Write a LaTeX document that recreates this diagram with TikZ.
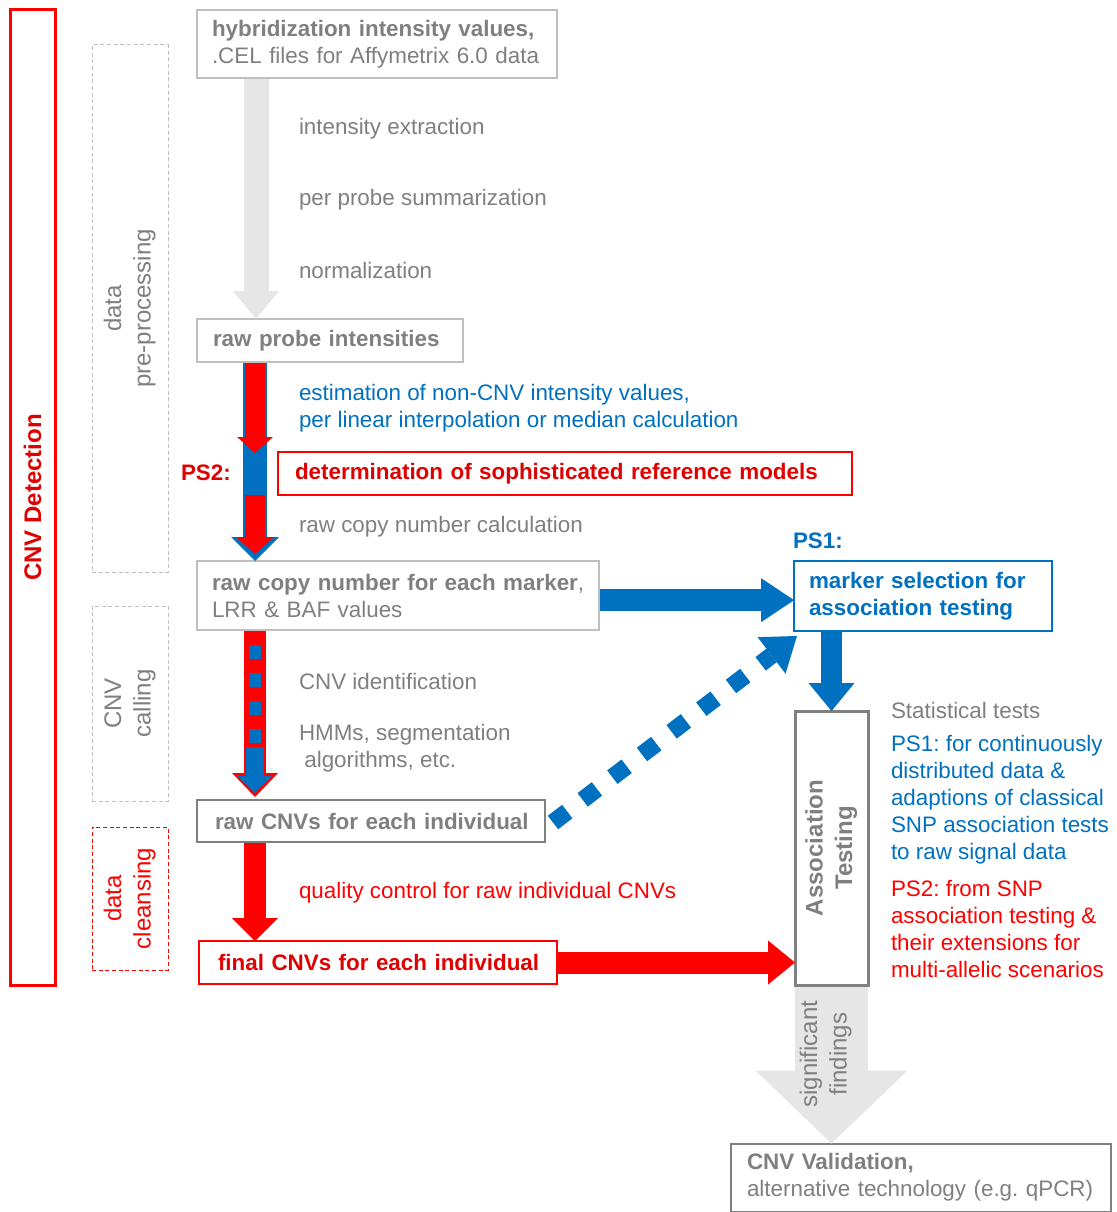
\documentclass[tikz,border=0pt]{standalone}
\usepackage{fontspec}
\setmainfont{Liberation Sans}
\usepackage{graphicx}
\usetikzlibrary{arrows.meta}
\definecolor{cblue}{HTML}{0070C0}
\definecolor{cred}{HTML}{FF0000}
\definecolor{cdred}{HTML}{E00000}
\definecolor{tgray}{HTML}{7F7F7F}
\definecolor{lgray}{HTML}{BFBFBF}
\definecolor{dgray}{HTML}{808080}
\definecolor{agray}{HTML}{E6E6E6}
\frenchspacing
\begin{document}
\begin{tikzpicture}[x=0.75pt,y=-0.75pt,
  every node/.style={inner sep=0pt, outer sep=0pt, font=\fontsize{16.8pt}{20.25pt}\selectfont},
  rfont/.style={font=\fontsize{18pt}{22pt}\selectfont},
  bold/.style={font=\fontsize{16.8pt}{20.25pt}\selectfont\bfseries},
  box/.style={draw=lgray, line width=1.5pt, text=tgray, align=left},
  lbl/.style={anchor=west, text=tgray, align=left},
  frame/.style={draw=lgray, line width=0.75pt, dash pattern=on 3pt off 2pt, text=tgray, rfont, minimum width=57pt},
  tip/.style args={#1/#2}{-{Triangle[width=#1,length=#2,line width=0pt]}}
]
\useasboundingbox (0,0) rectangle (1116,1212);

% side frames
\node[draw=cred, line width=2.25pt, minimum width=33.75pt, minimum height=731.25pt, text=cdred, rfont] (detect) at (32.5,497.5) {\rotatebox{90}{\bfseries CNV Detection}};
\node[frame, minimum height=395.25pt] (pre) at (130,308.5) {\rotatebox{90}{\begin{tabular}{@{}c@{}}data\\pre-processing\end{tabular}}};
\node[frame, minimum height=146.25pt] (call) at (130,703.5) {\rotatebox{90}{\begin{tabular}{@{}c@{}}CNV\\calling\end{tabular}}};
\node[frame, draw=cred, text=cred, minimum height=107.25pt] (clean) at (130,898.5) {\rotatebox{90}{\begin{tabular}{@{}c@{}}data\\cleansing\end{tabular}}};

% boxes
\node[box, minimum width=270pt, minimum height=51pt, inner xsep=11.25pt, text width=247.5pt] (hyb) at (377,44.5) {\mbox{\textbf{hybridization intensity values,}}\\\mbox{.CEL files for Affymetrix 6.0 data}};
\node[box, bold, minimum width=199.5pt, minimum height=32.25pt, inner xsep=12pt, text width=175.5pt] (probe) at (330,340.5) {\mbox{raw probe intensities}};
\node[box, minimum width=301.5pt, minimum height=51.75pt, inner xsep=11.25pt, text width=279pt] (copy) at (398,595.5) {\mbox{\textbf{raw copy number for each marker},}\\\mbox{LRR \& BAF values}};
\node[box, bold, draw=dgray, minimum width=261pt, minimum height=31.5pt, inner xsep=13.5pt, text width=234pt] (cnv) at (371,821) {\mbox{raw CNVs for each individual}};
\node[box, bold, draw=cred, text=cdred, minimum width=268.5pt, minimum height=32.25pt, inner xsep=14.25pt, text width=240pt] (final) at (378,962.5) {\mbox{final CNVs for each individual}};
\node[box, bold, draw=cred, text=cdred, minimum width=430.5pt, minimum height=32.25pt, inner xsep=12.75pt, text width=405pt] (ref) at (565,473.5) {\mbox{determination of sophisticated reference models}};
\node[box, bold, draw=cblue, text=cblue, minimum width=193.5pt, minimum height=52.5pt, inner xsep=11.25pt, text width=171pt] (marker) at (923,596) {\mbox{marker selection for}\\\mbox{association testing}};
\node[draw=dgray, line width=2.25pt, text=tgray, rfont, minimum width=54.75pt, minimum height=205.5pt] (assoc) at (831.5,848) {\rotatebox{90}{\bfseries\begin{tabular}{@{}c@{}}Association\\Testing\end{tabular}}};
\node[box, draw=dgray, minimum width=285pt, minimum height=51pt, inner xsep=12pt, text width=261pt] (valid) at (921,1177.5) {\mbox{\textbf{CNV Validation,}}\\\mbox{alternative technology (e.g. qPCR)}};

% labels
\node[lbl] (t1) at (299,129) {intensity extraction};
\node[lbl] (t2) at (299,200) {per probe summarization};
\node[lbl] (t3) at (299,270) {normalization};
\node[lbl, text=cblue] (t4) at (299,408) {estimation of non-CNV intensity values,\\per linear interpolation or median calculation};
\node[lbl, bold, text=cdred] (ps2) at (181,473) {PS2:};
\node[lbl] (t5) at (299,527) {raw copy number calculation};
\node[lbl, bold, text=cblue] (ps1) at (793,541) {PS1:};
\node[lbl] (t6) at (299,681) {CNV identification};
\node[lbl] (t7) at (299,748) {HMMs, segmentation\\\hspace*{4pt}algorithms, etc.};
\node[lbl, text=cred] (t8) at (299,893) {quality control for raw individual CNVs};
\node[lbl] (t9) at (891,710) {Statistical tests};
\node[lbl, text=cblue] (t10) at (891,800) {PS1: for continuously\\distributed data \&\\adaptions of classical\\SNP association tests\\to raw signal data};
\node[lbl, text=cred] (t11) at (891,929) {PS2: from SNP\\association testing \&\\their extensions for\\multi-allelic scenarios};

% arrow: hybridization -> raw probe
\draw[agray, line width=18.75pt, shorten <=0.75pt, tip=34.5pt/21pt] ([xshift=44.25pt]hyb.south west) -- ([xshift=44.25pt]probe.north west);

% arrow: raw probe -> raw copy (blue with red overlay)
\coordinate (r1a) at (255,363);
\coordinate (r1b) at (255,453);
\coordinate (r2a) at (255,495);
\coordinate (r2b) at (255,554);
\draw[cblue, line width=18pt, shorten <=0.75pt, tip=36pt/18pt] ([xshift=43.5pt]probe.south west) -- ([xshift=43.5pt]copy.north west);
\draw[cred, line width=15pt, tip=27pt/12pt] (r1a) -- (r1b);
\draw[cred, line width=15pt, tip=28.5pt/12.75pt] (r2a) -- (r2b);

% arrow: raw copy -> marker selection
\draw[cblue, line width=16.5pt, shorten <=0.75pt, tip=33pt/24.75pt] ([yshift=-3.5pt]copy.east) -- ([yshift=-3.5pt]copy.east -| marker.west);

% arrow: marker selection -> association testing
\draw[cblue, line width=15.75pt, shorten <=0.75pt, tip=34.5pt/21pt] (marker.south -| assoc.north) -- (assoc.north);

% dotted arrow: raw CNVs -> marker selection
\draw[cblue, line width=12.75pt, dash pattern=on 13.5pt off 14.5pt, tip=34.5pt/24pt] ([shift={(8,1.5)}]cnv.east) -- ([shift={(3,5)}]marker.south west);

% arrow: raw copy -> raw CNVs (red with blue overlay)
\coordinate (b1a) at (255,645);
\coordinate (b1b) at (255,743);
\coordinate (b2a) at (255,747);
\coordinate (b2b) at (255,793);
\draw[cred, line width=16.5pt, shorten <=0.75pt, tip=34.5pt/18pt] ([xshift=43.5pt]copy.south west) -- ([xshift=43.5pt,yshift=2.25pt]cnv.north west);
\draw[cblue, line width=9pt, dash pattern=on 10.5pt off 10.5pt] (b1a) -- (b1b);
\draw[cblue, line width=13.5pt, tip=26.25pt/12.75pt] (b2a) -- (b2b);

% arrow: raw CNVs -> final CNVs
\draw[cred, line width=16.5pt, shorten <=0.75pt, tip=34.5pt/17.25pt] ([xshift=43.5pt]cnv.south west) -- ([xshift=42pt]final.north west);

% arrow: final CNVs -> association testing
\draw[cred, line width=16.5pt, shorten <=0.75pt, tip=33pt/20.25pt] (final.east) -- (final.east -| assoc.west);

% arrow: association testing -> validation
\draw[agray, line width=54.75pt, shorten <=1.2pt, tip=114pt/54.75pt] (assoc.south) -- (assoc.south |- valid.north);
\node[text=tgray, rfont] (sig) at (826,1054) {\rotatebox{90}{\begin{tabular}{@{}c@{}}significant\\findings\end{tabular}}};
\end{tikzpicture}
\end{document}
